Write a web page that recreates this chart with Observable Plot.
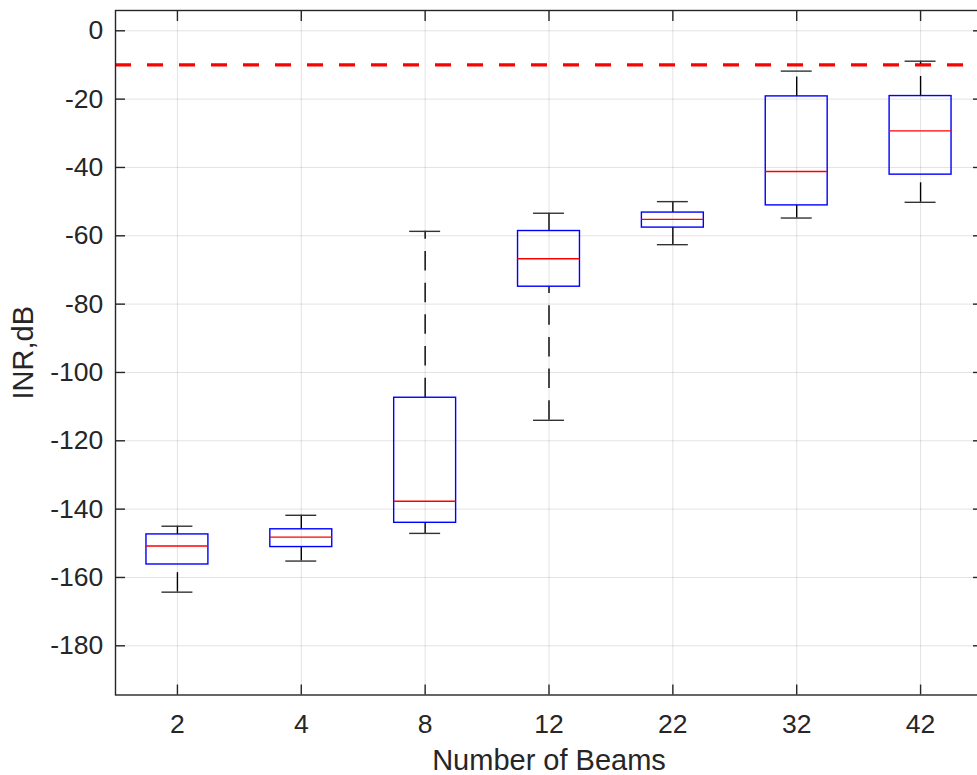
<!DOCTYPE html>
<html>
<head>
<meta charset="utf-8">
<script src="https://cdn.jsdelivr.net/npm/d3@7"></script>
<script src="https://cdn.jsdelivr.net/npm/@observablehq/plot@0.6"></script>
<style>
  html, body { margin: 0; padding: 0; background: #fff; overflow: hidden; }
  #chart svg { display: block; }
</style>
</head>
<body>
<div id="chart"></div>
<script>
// Data (INR in dB per number of beams)
const beams = ["2", "4", "8", "12", "22", "32", "42"];
const upperWhisker = [-145.0, -141.8, -58.7, -53.4, -50.0, -11.8, -8.9];
const q3 = [-147.4, -145.9, -107.4, -58.6, -53.2, -19.2, -19.1];
const median = [-150.8, -148.2, -137.7, -66.7, -55.2, -41.2, -29.3];
const q1 = [-156.2, -151.1, -144.0, -74.9, -57.6, -51.1, -42.1];
const lowerWhisker = [-164.3, -155.2, -147.1, -114.0, -62.6, -54.8, -50.2];
const threshold = [-10];
const yTicks = [-180, -160, -140, -120, -100, -80, -60, -40, -20, 0];
const yDomain = [-194.4, 5.94];

const rows = beams.map((b, i) => ({
  pos: i + 1,
  label: b,
  hi: upperWhisker[i],
  q3: q3[i],
  med: median[i],
  q1: q1[i],
  lo: lowerWhisker[i]
}));
const xTicks = rows.map(d => d.pos);

const ink = "#262626";
const font = "Liberation Sans, Arial, Helvetica, sans-serif";

const chart = Plot.plot({
  width: 977,
  height: 775,
  marginLeft: 115,
  marginRight: -5,
  marginTop: 10,
  marginBottom: 80.5,
  style: { fontFamily: font, fontSize: "26.5px", color: ink, background: "#fff" },
  x: { type: "linear", domain: [0.5, 7.5] },
  y: { type: "linear", domain: yDomain },
  marks: [
    Plot.gridX(xTicks, { stroke: ink, strokeOpacity: 0.13, strokeWidth: 1 }),
    Plot.gridY(yTicks, { stroke: ink, strokeOpacity: 0.13, strokeWidth: 1 }),
    // threshold line
    Plot.ruleY(threshold, { stroke: "#ff0000", strokeWidth: 3.2, strokeDasharray: "16,16" }),
    // whiskers (drawn from lower value upward)
    Plot.ruleX(rows, { x: "pos", y1: "q3", y2: "hi", stroke: "#000", strokeWidth: 1.4, strokeDasharray: "19.5,12.2" }),
    Plot.ruleX(rows, { x: "pos", y1: "lo", y2: "q1", stroke: "#000", strokeWidth: 1.4, strokeDasharray: "19.5,12.2" }),
    // caps
    Plot.ruleY(rows, { y: "hi", x1: d => d.pos - 0.125, x2: d => d.pos + 0.125, stroke: "#333", strokeWidth: 1.4 }),
    Plot.ruleY(rows, { y: "lo", x1: d => d.pos - 0.125, x2: d => d.pos + 0.125, stroke: "#333", strokeWidth: 1.4 }),
    // boxes
    Plot.rect(rows, { x1: d => d.pos - 0.25, x2: d => d.pos + 0.25, y1: "q1", y2: "q3", fill: "none", stroke: "#0000ff", strokeWidth: 1.4 }),
    // medians
    Plot.ruleY(rows, { y: "med", x1: d => d.pos - 0.25, x2: d => d.pos + 0.25, stroke: "#ff0000", strokeWidth: 1.4 }),
    // frame
    Plot.frame({ stroke: ink, strokeWidth: 1.4 }),
    // inward ticks
    Plot.axisX({ anchor: "bottom", ticks: xTicks, tickSize: -10, tickFormat: () => "", stroke: ink, strokeWidth: 1.4, label: null }),
    Plot.axisX({ anchor: "top", ticks: xTicks, tickSize: -10, tickFormat: () => "", stroke: ink, strokeWidth: 1.4, label: null }),
    Plot.axisY({ anchor: "left", ticks: yTicks, tickSize: -10, tickFormat: () => "", stroke: ink, strokeWidth: 1.4, label: null }),
    Plot.axisY({ anchor: "right", ticks: yTicks, tickSize: -10, tickFormat: () => "", stroke: ink, strokeWidth: 1.4, label: null }),
    // tick labels
    Plot.axisX({ anchor: "bottom", ticks: xTicks, tickSize: 0, tickPadding: 19, tickFormat: d => beams[d - 1], fill: ink, fontSize: 26.5, label: null }),
    Plot.axisY({ anchor: "left", ticks: yTicks, tickSize: 0, tickPadding: 12.3, tickFormat: d => String(d), fill: ink, fontSize: 26.5, label: null }),
    // axis titles
    Plot.text(["Number of Beams"], { frameAnchor: "bottom", dy: 66, fill: ink, fontSize: 29, textAnchor: "middle", lineAnchor: "middle" }),
    Plot.text(["INR,dB"], { frameAnchor: "left", dx: -92, rotate: -90, fill: ink, fontSize: 29, textAnchor: "middle", lineAnchor: "middle" })
  ]
});

document.getElementById("chart").appendChild(chart);
</script>
</body>
</html>
